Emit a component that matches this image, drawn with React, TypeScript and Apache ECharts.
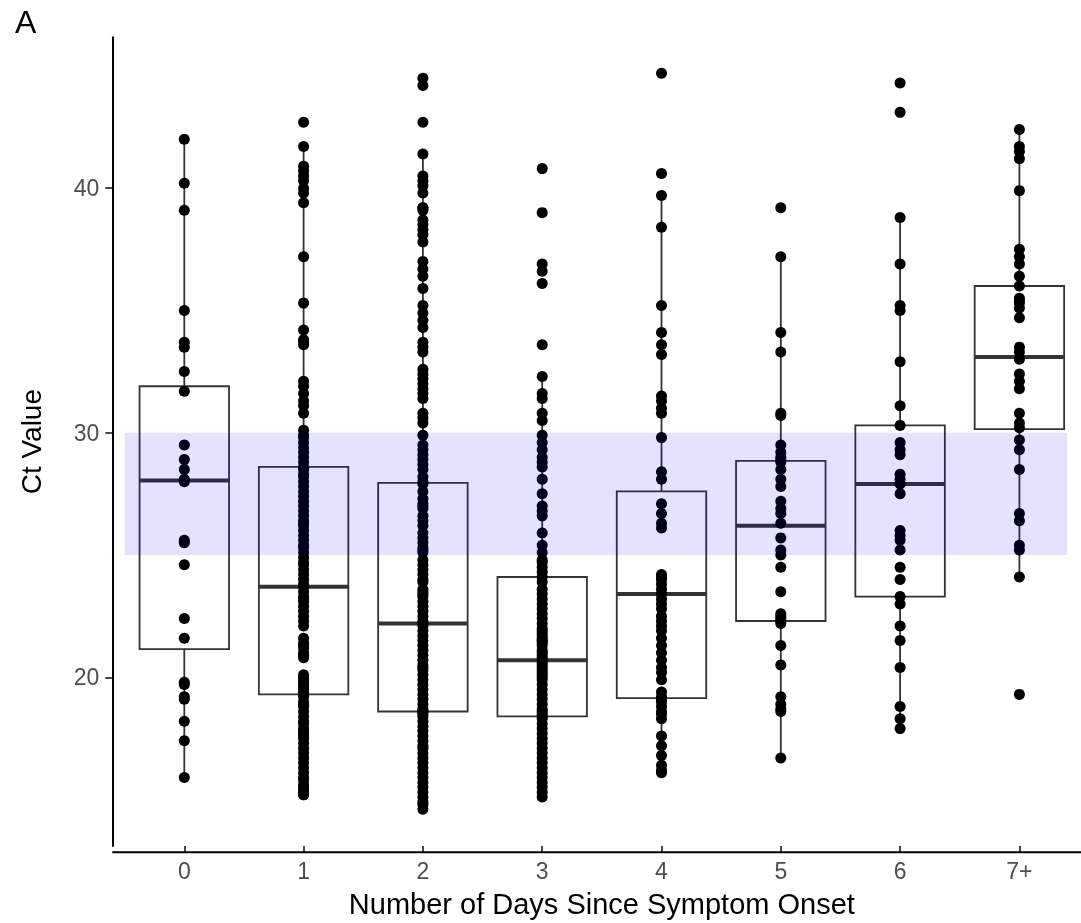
import React, { useEffect, useRef } from "react";
import * as echarts from "echarts";

const FONT = '"Liberation Sans", Arial, Helvetica, sans-serif';

const categories = ["0", "1", "2", "3", "4", "5", "6", "7+"];
const yTicks = [20, 30, 40];

const day0 = [42.0, 40.2, 39.1, 35.0, 33.7, 33.5, 32.5, 31.7, 29.5, 28.9, 28.5, 28.1, 28.0, 25.6, 25.5, 24.6, 22.4, 21.6, 19.8, 19.7, 19.2, 19.1, 18.2, 17.4, 15.9];
const day1 = [42.7, 41.7, 40.9, 40.7, 40.5, 40.3, 40.0, 39.8, 39.4, 37.2, 35.3, 34.2, 33.8, 33.7, 33.6, 32.1, 31.9, 31.6, 31.3, 31.1, 30.8,
  30.1, 29.9, 29.8, 29.6, 29.4, 29.2, 29.0, 28.8, 28.6, 28.5, 28.3, 28.2, 28.0, 27.8, 27.6, 27.4, 27.2, 27.0, 26.8, 26.6, 26.4, 26.3, 26.2,
  26.0, 25.8, 25.6, 25.4, 25.3, 25.1, 24.9, 24.7, 24.6, 24.4, 24.2, 24.0, 23.8, 23.7, 23.5, 23.3, 23.2, 23.1, 22.9, 22.7, 22.5, 22.3, 22.1,
  21.6, 21.4, 21.3, 21.2, 21.0, 20.9, 20.8, 20.1, 20.0, 19.9, 19.8, 19.7, 19.6, 19.5, 19.4, 19.3, 19.2, 19.0, 18.9, 18.8, 18.6, 18.4, 18.2,
  18.1, 17.9, 17.8, 17.7, 17.6, 17.5, 17.3, 17.1, 16.9, 16.7, 16.5, 16.3, 16.1, 15.9, 15.8, 15.6, 15.5, 15.4, 15.3, 15.2, 15.2];
const day2 = [44.5, 44.2, 42.7, 41.4, 40.5, 40.3, 40.1, 39.8, 39.2, 39.2, 39.1, 38.7, 38.5, 38.3, 38.1, 37.8, 37.0, 36.7, 36.4, 35.9, 35.2,
  34.9, 34.6, 34.3, 33.7, 33.5, 33.3, 32.6, 32.4, 32.2, 32.0, 31.8, 31.6, 31.4, 30.8, 30.6, 30.4, 29.9, 29.5, 29.3, 29.1, 28.9, 28.7, 28.5,
  28.2, 28.0, 27.9, 27.6, 27.3, 27.1, 27.0, 26.9, 26.6, 26.4, 26.2, 25.9, 25.7, 25.5, 25.3, 25.2, 25.1, 24.8, 24.6, 24.4, 24.2, 24.0, 23.9,
  23.6, 23.5, 23.4, 23.3, 23.1, 22.9, 22.7, 22.5, 22.3, 22.2, 22.1, 21.9, 21.7, 21.5, 21.3, 21.1, 20.9, 20.7, 20.5, 20.4, 20.3, 20.1, 19.9,
  19.7, 19.5, 19.3, 19.1, 18.9, 18.7, 18.6, 18.6, 18.5, 18.4, 18.2, 18.0, 17.8, 17.6, 17.4, 17.2, 17.1, 16.9, 16.7, 16.5, 16.3, 16.1, 15.9,
  15.7, 15.5, 15.3, 15.1, 14.9, 14.8, 14.6];
const day3 = [40.8, 39.0, 36.9, 36.6, 36.1, 33.6, 32.3, 31.6, 31.4, 30.8, 30.5, 29.9, 29.6, 29.3, 29.0, 28.8, 28.6, 28.1, 27.5, 27.0, 26.8,
  26.6, 25.9, 25.4, 25.1, 24.8, 24.7, 24.5, 24.3, 24.1, 23.9, 23.6, 23.4, 23.2, 23.0, 22.8, 22.6, 22.4, 22.2, 22.0, 21.9, 21.8, 21.7, 21.6,
  21.5, 21.5, 21.4, 21.3, 21.1, 21.0, 20.9, 20.8, 20.7, 20.6, 20.5, 20.4, 20.3, 20.2, 20.1, 20.0, 19.9, 19.7, 19.5, 19.3, 19.1, 18.9, 18.7,
  18.6, 18.5, 18.4, 18.3, 18.1, 17.9, 17.7, 17.5, 17.3, 17.1, 16.9, 16.7, 16.5, 16.3, 16.1, 15.9, 15.7, 15.5, 15.3, 15.1];
const day4 = [44.7, 40.6, 39.7, 38.4, 35.2, 34.1, 33.6, 33.2, 31.5, 31.3, 31.0, 30.8, 29.8, 28.4, 28.1, 27.1, 26.7, 26.3, 26.1, 24.2, 24.1,
  24.0, 23.8, 23.6, 23.4, 23.2, 23.0, 22.8, 22.5, 22.3, 22.1, 21.9, 21.6, 21.3, 21.0, 20.7, 20.4, 20.2, 19.9, 19.4, 19.2, 19.1, 19.0, 18.8,
  18.6, 18.5, 18.3, 17.6, 17.2, 16.8, 16.4, 16.2, 16.1];
const day5 = [39.2, 37.2, 34.1, 33.3, 30.8, 30.7, 29.5, 29.2, 29.0, 28.9, 28.8, 28.5, 28.1, 27.8, 27.2, 26.9, 26.7, 26.3, 25.7, 25.2, 25.0,
  24.5, 23.5, 22.6, 22.5, 22.4, 22.3, 22.2, 21.3, 20.5, 19.2, 18.9, 18.7, 18.6, 16.7];
const day6 = [44.3, 43.1, 38.8, 36.9, 35.2, 35.0, 32.9, 31.1, 30.3, 29.6, 29.3, 29.1, 28.3, 28.1, 27.9, 27.5, 26.0, 25.8, 25.6, 25.2, 24.5,
  24.0, 23.3, 23.0, 22.1, 21.5, 20.4, 18.8, 18.3, 17.9];
const day7 = [42.4, 41.7, 41.5, 41.2, 39.9, 37.5, 37.2, 36.9, 36.4, 36.0, 35.5, 35.4, 35.3, 35.1, 34.7, 33.5, 33.3, 33.0, 32.4, 32.1, 31.8,
  30.8, 30.4, 30.2, 29.7, 29.3, 28.5, 26.7, 26.4, 25.4, 25.2, 24.1, 19.3];

const pointsByDay = [day0, day1, day2, day3, day4, day5, day6, day7];

const boxLow = [15.9, 15.2, 14.6, 15.1, 16.1, 16.7, 17.9, 24.1];
const boxQ1 = [21.15, 19.3, 18.6, 18.4, 19.15, 22.3, 23.3, 30.15];
const boxMedian = [28.05, 23.7, 22.2, 20.7, 23.4, 26.2, 27.9, 33.1];
const boxQ3 = [31.9, 28.6, 27.95, 24.1, 27.6, 28.85, 30.3, 36.0];
const boxHigh = [42.0, 41.7, 41.4, 32.3, 39.7, 37.2, 38.8, 42.4];

const bandLow = 25;
const bandHigh = 30;
const bandStart = -0.5;
const bandEnd = 7.4;

export default function App() {
  const ref = useRef<HTMLDivElement>(null);

  useEffect(() => {
    const chart = echarts.init(ref.current as HTMLDivElement, null, { renderer: "svg" });
    const scatterData = pointsByDay.flatMap((arr, i) => arr.map((v) => [i, v]));
    const boxData = categories.map((_, i) => [i, boxLow[i], boxQ1[i], boxMedian[i], boxQ3[i], boxHigh[i]]);

    chart.setOption({
      animation: false,
      textStyle: { fontFamily: FONT },
      grid: { left: 124.65, right: 1.95, top: 37.3, bottom: 70.7, containLabel: false },
      xAxis: [
        {
          type: "category",
          data: categories,
          boundaryGap: true,
          axisLine: { show: false },
          axisTick: { show: true, alignWithLabel: true, length: 7, lineStyle: { color: "#333333", width: 1.8 } },
          axisLabel: { color: "#4d4d4d", fontSize: 23, margin: 13, fontFamily: FONT },
          splitLine: { show: false },
          name: "Number of Days Since Symptom Onset",
          nameLocation: "middle",
          nameGap: 43,
          nameTextStyle: { color: "#000000", fontSize: 29, fontFamily: FONT },
        },
        { type: "value", min: -0.5, max: 7.5, show: false },
      ],
      yAxis: {
        type: "value",
        min: 13.1,
        max: 46.17,
        offset: 12.35,
        axisLine: { show: true, onZero: false, lineStyle: { color: "#000000", width: 2 } },
        axisTick: { show: true, length: 7, customValues: yTicks, lineStyle: { color: "#333333", width: 1.8 } },
        axisLabel: { customValues: yTicks, color: "#4d4d4d", fontSize: 23, margin: 13, fontFamily: FONT },
        splitLine: { show: false },
        name: "Ct Value",
        nameLocation: "middle",
        nameGap: 67,
        nameTextStyle: { color: "#000000", fontSize: 28, fontFamily: FONT },
      },
      graphic: [
        { type: "text", left: 15, top: 6, style: { text: "A", fontSize: 32, fill: "#000000", fontFamily: FONT } },
        { type: "line", shape: { x1: 112.3, y1: 852.3, x2: 1081, y2: 852.3 }, style: { stroke: "#000000", lineWidth: 2 }, z: 100 },
      ],
      series: [
        {
          type: "custom",
          xAxisIndex: 0,
          yAxisIndex: 0,
          z: 2,
          silent: true,
          encode: { x: 0, y: [1, 2, 3, 4, 5] },
          data: boxData,
          renderItem: (params: any, api: any) => {
            const x = api.value(0);
            const low = api.coord([x, api.value(1)]);
            const q1 = api.coord([x, api.value(2)]);
            const med = api.coord([x, api.value(3)]);
            const q3 = api.coord([x, api.value(4)]);
            const high = api.coord([x, api.value(5)]);
            const halfW = api.size([1, 0])[0] * 0.375;
            const cx = low[0];
            const stroke = { stroke: "#333333", lineWidth: 1.8 };
            return {
              type: "group",
              children: [
                { type: "line", shape: { x1: cx, y1: q1[1], x2: cx, y2: low[1] }, style: stroke },
                { type: "line", shape: { x1: cx, y1: q3[1], x2: cx, y2: high[1] }, style: stroke },
                {
                  type: "rect",
                  shape: { x: cx - halfW, y: q3[1], width: 2 * halfW, height: q1[1] - q3[1] },
                  style: { fill: "#ffffff", stroke: "#333333", lineWidth: 1.8 },
                },
                {
                  type: "line",
                  shape: { x1: cx - halfW, y1: med[1], x2: cx + halfW, y2: med[1] },
                  style: { stroke: "#333333", lineWidth: 4 },
                },
              ],
            };
          },
        },
        {
          type: "scatter",
          xAxisIndex: 0,
          yAxisIndex: 0,
          z: 3,
          symbol: "circle",
          symbolSize: 11,
          itemStyle: { color: "#000000", opacity: 1 },
          data: scatterData,
        },
        {
          type: "custom",
          xAxisIndex: 1,
          yAxisIndex: 0,
          z: 4,
          silent: true,
          encode: { x: [0, 2], y: [1, 3] },
          data: [[bandStart, bandLow, bandEnd, bandHigh]],
          renderItem: (params: any, api: any) => {
            const a = api.coord([api.value(0), api.value(3)]);
            const b = api.coord([api.value(2), api.value(1)]);
            return {
              type: "rect",
              shape: { x: a[0], y: a[1], width: b[0] - a[0], height: b[1] - a[1] },
              style: { fill: "rgba(0,0,255,0.11)" },
            };
          },
        },
      ],
    });

    return () => chart.dispose();
  }, []);

  return <div ref={ref} style={{ position: "fixed", left: 0, top: 0, width: 1081, height: 923 }} />;
}
